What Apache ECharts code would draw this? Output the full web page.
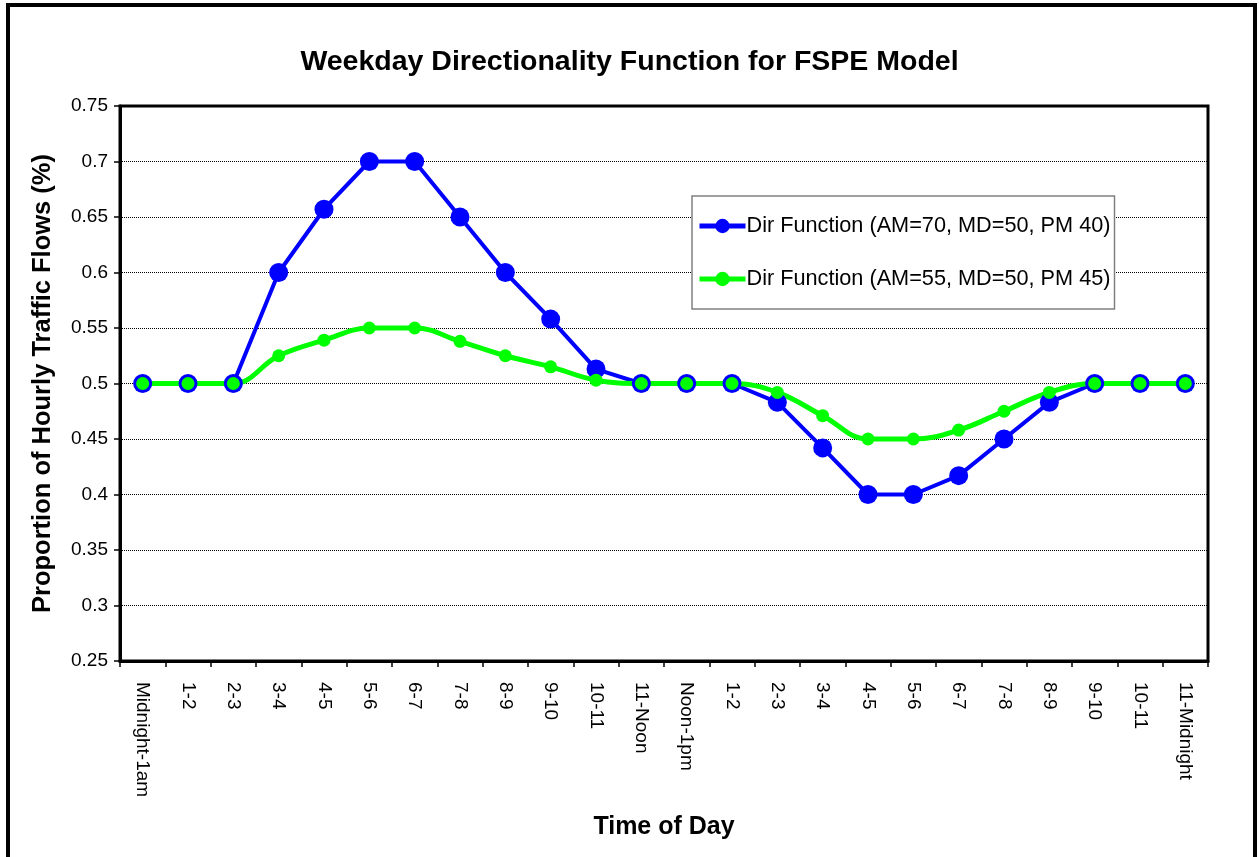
<!DOCTYPE html>
<html lang="en">
<head>
    <meta charset="UTF-8">
    <title>directionality</title>
    <script src="https://cdn.jsdelivr.net/npm/echarts@6/dist/echarts.min.js"></script>
    <style>
        html,body{margin:0;padding:0;background:#fff}
        #main{width:1259px;height:857px}
    </style>
</head>
<body>
    <div id="main"></div>
    <script>
        var hours = ['Midnight-1am','1-2','2-3','3-4','4-5','5-6','6-7','7-8','8-9','9-10','10-11','11-Noon',
                     'Noon-1pm','1-2','2-3','3-4','4-5','5-6','6-7','7-8','8-9','9-10','10-11','11-Midnight'];
        var dir70 = [0.5,0.5,0.5,0.6,0.657,0.7,0.7,0.65,0.6,0.558,0.513,0.5,
                     0.5,0.5,0.483,0.442,0.4,0.4,0.417,0.45,0.483,0.5,0.5,0.5];
        var dir55 = [0.5,0.5,0.5,0.525,0.539,0.55,0.55,0.538,0.525,0.515,0.503,0.5,
                     0.5,0.5,0.492,0.471,0.45,0.45,0.458,0.475,0.492,0.5,0.5,0.5];
        var name70 = 'Dir Function (AM=70, MD=50, PM 40)';
        var name55 = 'Dir Function (AM=55, MD=50, PM 45)';

        var font = 'Liberation Sans, Arial, sans-serif';
        var mychart = echarts.init(document.getElementById('main'));
        var option = {
            backgroundColor:'#fff',
            animation:false,
            textStyle:{fontFamily:font},
            title:{
                text:'Weekday Directionality Function for FSPE Model',
                left:'center',
                top:43,
                textStyle:{fontSize:28.5,fontWeight:'bold',color:'#000',fontFamily:font}
            },
            graphic:[{
                type:'rect',
                shape:{x:8,y:5,width:1247,height:900},
                style:{fill:null,stroke:'#000',lineWidth:4},
                silent:true
            }],
            legend:{
                orient:'vertical',
                left:692,
                top:196,
                padding:[19,4,19,5],
                itemGap:31,
                itemWidth:46,
                itemHeight:18,
                backgroundColor:'#fff',
                borderColor:'#808080',
                borderWidth:1.5,
                lineStyle:{width:5},
                textStyle:{fontSize:21.7,color:'#000',fontFamily:font,padding:[0,0,0,-4]},
                data:[name70,name55]
            },
            grid:{
                left:120,
                right:51,
                top:106,
                bottom:196,
                show:true,
                borderColor:'#000',
                borderWidth:3
            },
            xAxis:{
                type:'category',
                data:hours,
                name:'Time of Day',
                nameLocation:'middle',
                nameGap:154,
                nameTextStyle:{fontSize:25,fontWeight:'bold',color:'#000',fontFamily:font},
                axisLine:{lineStyle:{color:'#000',width:3}},
                axisTick:{show:true,length:6,lineStyle:{color:'#000',width:1.5}},
                axisLabel:{interval:0,rotate:-90,margin:21,fontSize:19,color:'#000',fontFamily:font}
            },
            yAxis:{
                type:'value',
                min:0.25,
                max:0.75,
                interval:0.05,
                name:'Proportion of Hourly Traffic Flows (%)',
                nameLocation:'middle',
                nameGap:64,
                nameTextStyle:{fontSize:25.5,fontWeight:'bold',color:'#000',fontFamily:font},
                axisLine:{show:true,lineStyle:{color:'#000',width:3}},
                axisTick:{show:true,length:6,lineStyle:{color:'#000',width:1.5}},
                axisLabel:{fontSize:19,color:'#000',margin:12,fontFamily:font,
                    formatter:function(v){return String(+v.toFixed(2));}},
                splitLine:{show:true,lineStyle:{color:'#000',type:'dotted',width:1}}
            },
            series:[
                {
                    name:name70,
                    type:'line',
                    data:dir70,
                    symbol:'circle',
                    symbolSize:19,
                    itemStyle:{color:'#0000FF'},
                    lineStyle:{color:'#0000FF',width:4}
                },
                {
                    name:name55,
                    type:'line',
                    data:dir55,
                    smooth:0.4,
                    symbol:'circle',
                    symbolSize:13,
                    itemStyle:{color:'#00FF00'},
                    lineStyle:{color:'#00FF00',width:5}
                }
            ]
        };
        mychart.setOption(option);
    </script>
</body>
</html>
